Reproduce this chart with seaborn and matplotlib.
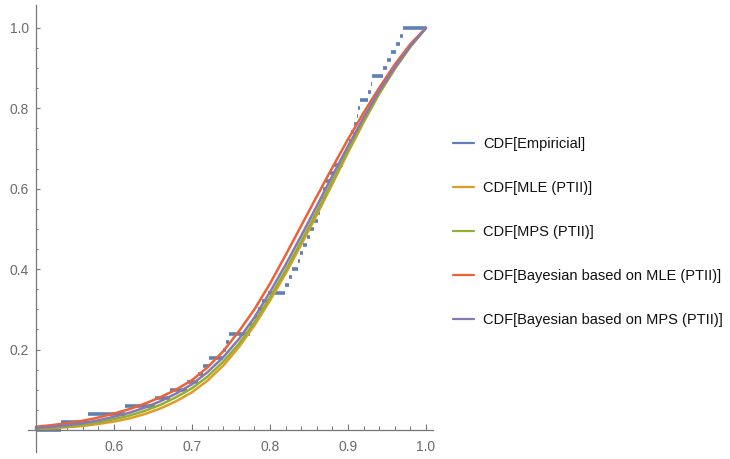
import matplotlib
matplotlib.use("Agg")
import matplotlib.pyplot as plt
from matplotlib.lines import Line2D
from matplotlib.ticker import FixedLocator, FormatStrFormatter
import seaborn as sns
import numpy as np
import pandas as pd

# evaluation grid of the fitted CDFs
x_grid = [0.50, 0.52, 0.54, 0.56, 0.58, 0.60, 0.62, 0.64, 0.66, 0.68, 0.70, 0.72, 0.74,
          0.76, 0.78, 0.80, 0.82, 0.84, 0.86, 0.88, 0.90, 0.92, 0.94, 0.96, 0.98, 1.00]

cdf_mle = [0.002, 0.004, 0.007, 0.010, 0.015, 0.021, 0.029, 0.040, 0.054, 0.072, 0.094, 0.123, 0.160,
           0.206, 0.260, 0.322, 0.389, 0.461, 0.535, 0.612, 0.690, 0.765, 0.836, 0.898, 0.953, 1.000]
cdf_mps = [0.003, 0.006, 0.009, 0.013, 0.019, 0.027, 0.036, 0.048, 0.063, 0.082, 0.104, 0.133, 0.170,
           0.214, 0.268, 0.330, 0.397, 0.469, 0.543, 0.619, 0.695, 0.769, 0.838, 0.899, 0.954, 1.000]
cdf_bayes_mle = [0.008, 0.012, 0.017, 0.023, 0.031, 0.041, 0.052, 0.066, 0.082, 0.101, 0.124, 0.156, 0.196,
                 0.245, 0.300, 0.364, 0.435, 0.508, 0.581, 0.653, 0.723, 0.789, 0.851, 0.909, 0.960, 1.000]
cdf_bayes_mps = [0.005, 0.008, 0.012, 0.017, 0.024, 0.033, 0.043, 0.056, 0.072, 0.091, 0.114, 0.144, 0.181,
                 0.226, 0.280, 0.343, 0.411, 0.483, 0.557, 0.632, 0.706, 0.777, 0.843, 0.902, 0.955, 1.000]

# sorted sample behind the empirical CDF
sample = [0.532, 0.567, 0.614, 0.652, 0.672, 0.694, 0.708, 0.714, 0.722, 0.740,
          0.744, 0.748, 0.774, 0.779, 0.785, 0.790, 0.797, 0.819, 0.825, 0.828,
          0.836, 0.838, 0.842, 0.847, 0.851, 0.856, 0.861, 0.864, 0.866, 0.868,
          0.872, 0.877, 0.882, 0.893, 0.897, 0.901, 0.904, 0.908, 0.911, 0.913,
          0.915, 0.926, 0.929, 0.931, 0.945, 0.950, 0.955, 0.962, 0.967, 0.971]

labels = ["CDF[Empiricial]", "CDF[MLE (PTII)]", "CDF[MPS (PTII)]",
          "CDF[Bayesian based on MLE (PTII)]", "CDF[Bayesian based on MPS (PTII)]"]
colors = ["#5E81B5", "#E19C24", "#8FB032", "#EB6235", "#8778B3"]

sns.set_theme(style="white")
plt.rcParams["font.family"] = ["Liberation Sans", "DejaVu Sans"]

fig = plt.figure(figsize=(7.3, 4.59), dpi=100)
ax = fig.add_axes([28 / 730, 7 / 459, 405 / 730, 447 / 459])

# empirical CDF: horizontal steps only
n = len(sample)
starts = [0.5] + sample
ends = sample + [1.0]
levels = [i / n for i in range(n + 1)]
ax.hlines(levels, starts, ends, color=colors[0], lw=2.6, zorder=1)

curves = pd.DataFrame({
    "x": x_grid * 4,
    "F": cdf_mle + cdf_mps + cdf_bayes_mle + cdf_bayes_mps,
    "model": sum([[lab] * len(x_grid) for lab in labels[1:]], []),
})
sns.lineplot(data=curves, x="x", y="F", hue="model", hue_order=labels[1:],
             palette=colors[1:], lw=1.8, legend=False, ax=ax, zorder=2)

ax.set_xlim(0.4897, 1.009)
ax.set_ylim(-0.0547, 1.057)
ax.set_xlabel("")
ax.set_ylabel("")

axis_col = "#777777"
for side in ["top", "right"]:
    ax.spines[side].set_visible(False)
ax.spines["left"].set_position(("data", 0.5))
ax.spines["bottom"].set_position(("data", 0.0))
for side in ["left", "bottom"]:
    ax.spines[side].set_color(axis_col)
    ax.spines[side].set_linewidth(0.9)

ax.xaxis.set_major_locator(FixedLocator([0.6, 0.7, 0.8, 0.9, 1.0]))
ax.xaxis.set_minor_locator(FixedLocator([v for v in np.arange(0.52, 1.0, 0.02)
                                         if abs(v * 10 - round(v * 10)) > 1e-6]))
ax.yaxis.set_major_locator(FixedLocator([0.2, 0.4, 0.6, 0.8, 1.0]))
ax.yaxis.set_minor_locator(FixedLocator([0.05, 0.1, 0.15, 0.25, 0.3, 0.35, 0.45, 0.5,
                                         0.55, 0.65, 0.7, 0.75, 0.85, 0.9, 0.95]))
ax.xaxis.set_major_formatter(FormatStrFormatter("%.1f"))
ax.yaxis.set_major_formatter(FormatStrFormatter("%.1f"))

ax.tick_params(axis="x", which="major", direction="in", length=4.5, width=0.8,
               color=axis_col, labelcolor="#6a6a6a", labelsize=10, pad=7, bottom=True)
ax.tick_params(axis="x", which="minor", direction="in", length=2.6, width=0.7,
               color=axis_col, bottom=True)
ax.tick_params(axis="y", which="major", direction="in", length=3, width=0.8,
               color=axis_col, labelcolor="#6a6a6a", labelsize=10, pad=5, left=True)
ax.tick_params(axis="y", which="minor", direction="in", length=1.6, width=0.7,
               color=axis_col, left=True)

handles = [Line2D([0], [0], color=c, lw=1.6) for c in colors]
leg = fig.legend(handles, labels, loc="center left", bbox_to_anchor=(453 / 730, 1 - 232 / 459),
                 frameon=False, fontsize=10.5, handlelength=1.45, handletextpad=0.62,
                 labelspacing=2.05, borderpad=0, borderaxespad=0)
for t in leg.get_texts():
    t.set_color("#111111")

fig.savefig("out.png", dpi=100)
